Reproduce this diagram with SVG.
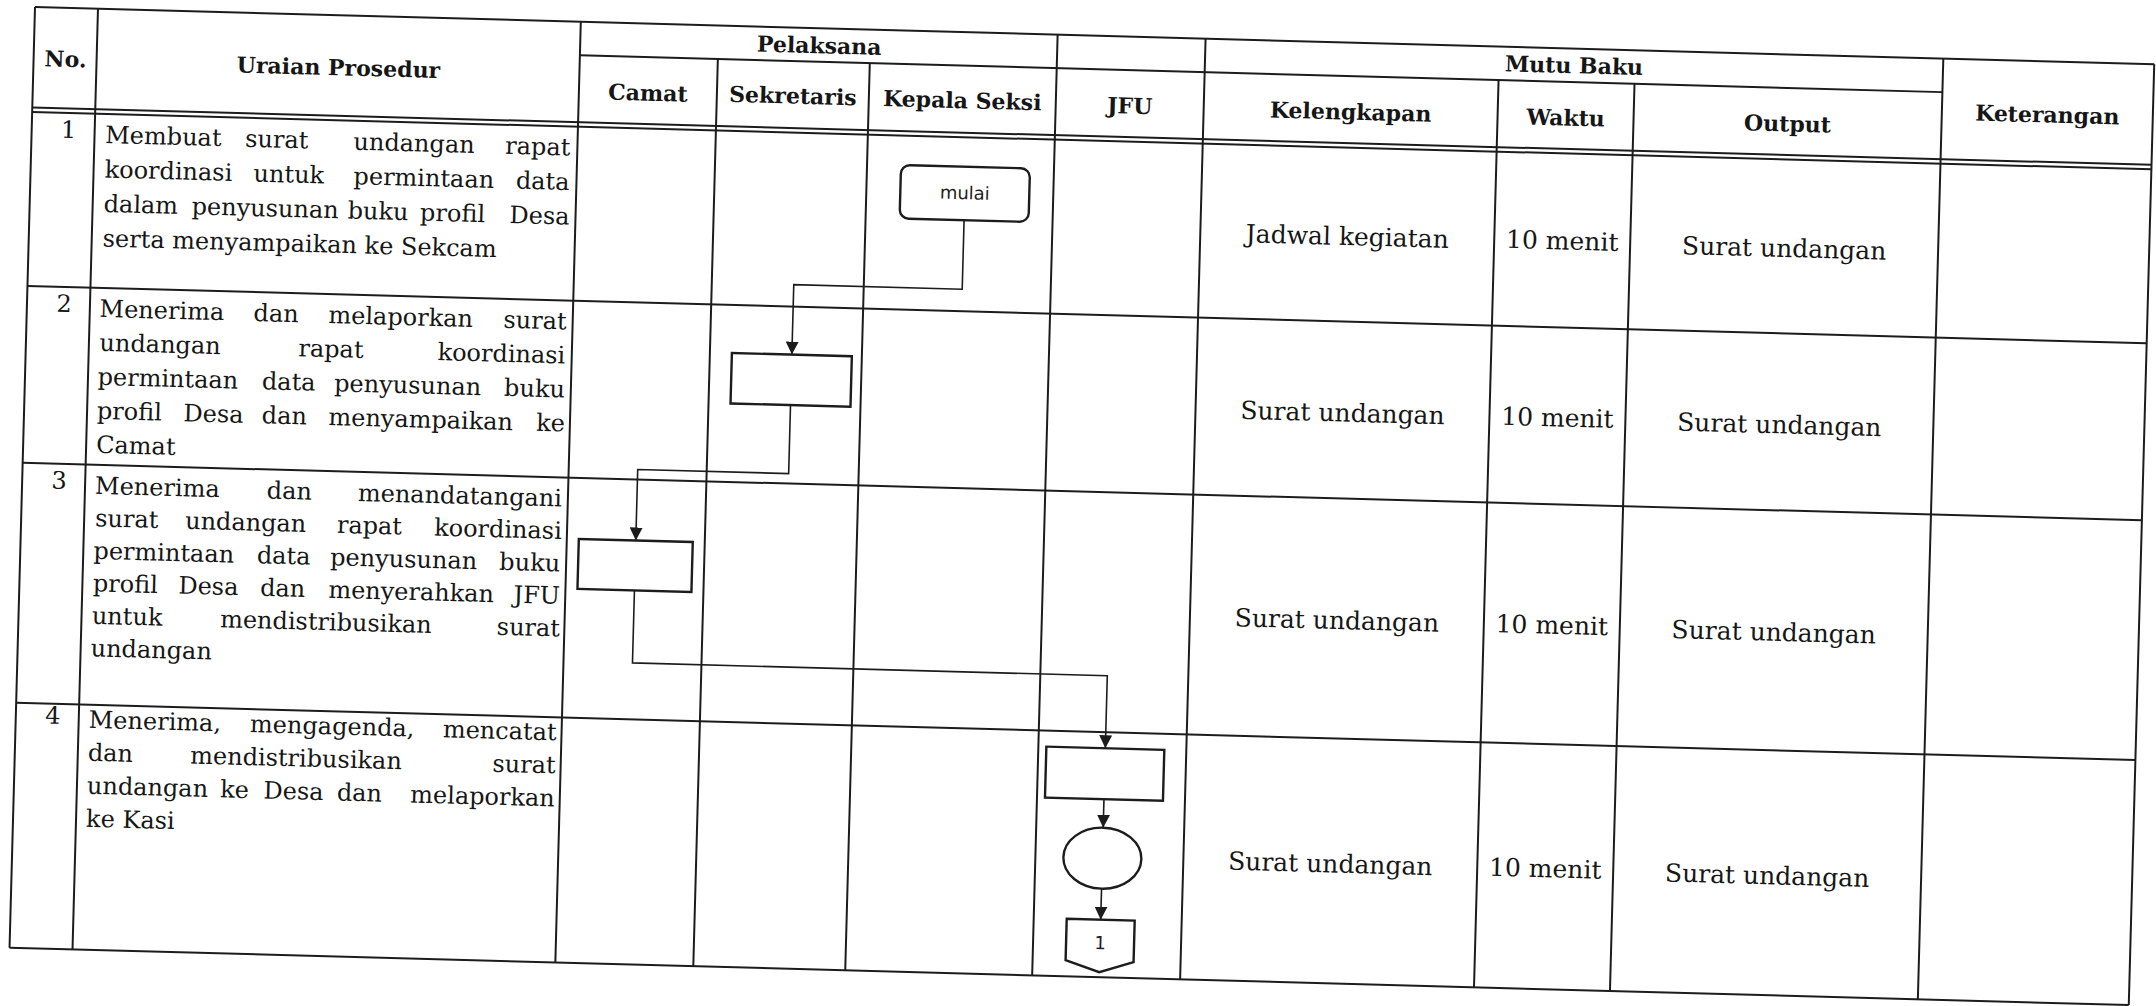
<svg xmlns="http://www.w3.org/2000/svg" width="2156" height="1006" viewBox="0 0 2156 1006">
<style>
.ln{stroke:#1c1c1c;stroke-width:2;fill:none}
.hd{font-family:"DejaVu Serif",serif;font-weight:bold;font-size:22px;fill:#161616;text-anchor:middle}
.bd{font-family:"DejaVu Serif",serif;font-size:24px;fill:#161616}
.e{text-anchor:end}
.cl{font-family:"DejaVu Serif",serif;font-size:25px;fill:#161616;text-anchor:middle}
.num{font-family:"DejaVu Serif",serif;font-size:24px;fill:#161616;text-anchor:middle}
.shape{fill:#fff;stroke:#1c1c1c;stroke-width:2.4}
.con{fill:none;stroke:#1c1c1c;stroke-width:1.6;marker-end:url(#arr)}
.sl{font-family:"DejaVu Sans",sans-serif;font-size:18px;fill:#1c1c1c;text-anchor:middle}
</style>
<defs>
<marker id="arr" markerUnits="userSpaceOnUse" markerWidth="13" markerHeight="13" refX="12" refY="6" orient="auto" viewBox="0 0 12 12"><path d="M0,0 L12,6 L0,12 z" fill="#1c1c1c"/></marker>
</defs>
<rect width="2156" height="1006" fill="#ffffff"/>
<g transform="rotate(1.55 35 7)">
<g transform="translate(35 7)">
<g id="grid" class="ln">
<path d="M0,0H2120M546,33.5H1909M0,100.5H2120M0,105H2120M0,279H2120M0,456H2120M0,696H2120M0,941H2120"/>
<path d="M0,0V941M63,0V941M546,0V941M1023,0V941M1171,0V941M1909,0V941M2120,0V941M684,33.5V941M836,33.5V941M1465,33.5V941M1601,33.5V941"/>
</g>
<g id="header">
<text class="hd" x="32" y="59">No.</text>
<text class="hd" x="305" y="60">Uraian Prosedur</text>
<text class="hd" x="785" y="25">Pelaksana</text>
<text class="hd" x="615" y="77">Camat</text>
<text class="hd" x="760" y="76">Sekretaris</text>
<text class="hd" x="929.5" y="76">Kepala Seksi</text>
<text class="hd" x="1097" y="77">JFU</text>
<text class="hd" x="1540" y="24.5">Mutu Baku</text>
<text class="hd" x="1318" y="77">Kelengkapan</text>
<text class="hd" x="1533" y="77">Waktu</text>
<text class="hd" x="1755" y="77">Output</text>
<text class="hd" x="2014.5" y="61">Keterangan</text>
</g>
<g id="row1">
<text class="num" x="37" y="130">1</text>
<text class="bd" y="134"><tspan x="73.7">Membuat</tspan><tspan x="213.7">surat</tspan><tspan x="322">undangan</tspan></text>
<text class="bd e" x="539" y="134">rapat</text>
<text class="bd" y="168.5"><tspan x="74">koordinasi</tspan><tspan x="223">untuk</tspan><tspan x="323">permintaan</tspan></text>
<text class="bd e" x="539" y="168.5">data</text>
<text class="bd" y="203"><tspan x="74">dalam</tspan><tspan x="162">penyusunan</tspan><tspan x="318">buku</tspan><tspan x="390.5">profil</tspan></text>
<text class="bd e" x="540" y="203">Desa</text>
<text class="bd" x="74" y="237.5">serta menyampaikan ke Sekcam</text>
<text class="cl" x="1318" y="202.5">Jadwal kegiatan</text>
<text class="cl" x="1533" y="201">10 menit</text>
<text class="cl" x="1755" y="202.5">Surat undangan</text>
</g>
<g id="row2">
<text class="num" x="37" y="304">2</text>
<text class="bd" y="308"><tspan x="72.7">Menerima</tspan><tspan x="226.7">dan</tspan><tspan x="301.7">melaporkan</tspan></text>
<text class="bd e" x="540" y="308">surat</text>
<text class="bd" y="342"><tspan x="73.6">undangan</tspan><tspan x="272.6">rapat</tspan></text>
<text class="bd e" x="539.5" y="342">koordinasi</text>
<text class="bd" y="376"><tspan x="72.6">permintaan</tspan><tspan x="237">data</tspan><tspan x="309.3">penyusunan</tspan></text>
<text class="bd e" x="540" y="376">buku</text>
<text class="bd" y="410"><tspan x="72.8">profil</tspan><tspan x="159.4">Desa</tspan><tspan x="237.8">dan</tspan><tspan x="304.4">menyampaikan</tspan></text>
<text class="bd e" x="541" y="410">ke</text>
<text class="bd" x="73" y="444">Camat</text>
<text class="cl" x="1318" y="379">Surat undangan</text>
<text class="cl" x="1533" y="378">10 menit</text>
<text class="cl" x="1755" y="379">Surat undangan</text>
</g>
<g id="row3">
<text class="num" x="37" y="481">3</text>
<text class="bd" y="485"><tspan x="73">Menerima</tspan><tspan x="244.8">dan</tspan></text>
<text class="bd e" x="540" y="485">menandatangani</text>
<text class="bd" y="517.5"><tspan x="74">surat</tspan><tspan x="164">undangan</tspan><tspan x="315.8">rapat</tspan></text>
<text class="bd e" x="540.8" y="517.5">koordinasi</text>
<text class="bd" y="550"><tspan x="73.2">permintaan</tspan><tspan x="236.6">data</tspan><tspan x="310">penyusunan</tspan></text>
<text class="bd e" x="540" y="550">buku</text>
<text class="bd" y="582.5"><tspan x="73.5">profil</tspan><tspan x="159">Desa</tspan><tspan x="240.8">dan</tspan><tspan x="309">menyerahkan</tspan></text>
<text class="bd e" x="540.8" y="582.5">JFU</text>
<text class="bd" y="615"><tspan x="73.3">untuk</tspan><tspan x="201.6">mendistribusikan</tspan></text>
<text class="bd e" x="541.6" y="615">surat</text>
<text class="bd" x="73" y="647.5">undangan</text>
<text class="cl" x="1318" y="586.5">Surat undangan</text>
<text class="cl" x="1533" y="585.5">10 menit</text>
<text class="cl" x="1755" y="586.5">Surat undangan</text>
</g>
<g id="row4">
<text class="num" x="37" y="716">4</text>
<text class="bd" y="719"><tspan x="73">Menerima,</tspan><tspan x="234.4">mengagenda,</tspan></text>
<text class="bd e" x="541" y="719">mencatat</text>
<text class="bd" y="752"><tspan x="73">dan</tspan><tspan x="175.4">mendistribusikan</tspan></text>
<text class="bd e" x="541" y="752">surat</text>
<text class="bd" y="785"><tspan x="73">undangan</tspan><tspan x="206.3">ke</tspan><tspan x="249.6">Desa</tspan><tspan x="323">dan</tspan></text>
<text class="bd e" x="541" y="785">melaporkan</text>
<text class="bd" x="73" y="818">ke Kasi</text>
<text class="cl" x="1318" y="830">Surat undangan</text>
<text class="cl" x="1533" y="829">10 menit</text>
<text class="cl" x="1755" y="830">Surat undangan</text>
</g>
<g id="connectors">
<path class="con" d="M934.5,188V257H766V327"/>
<path class="con" d="M766,377.5V446H615V517"/>
<path class="con" d="M615,567V639.5H1090V712"/>
<path class="con" d="M1090,763V791.5"/>
<path class="con" d="M1090,852.5V883.5"/>
</g>
<g id="node-mulai">
<rect class="shape" x="870" y="134.5" width="129" height="53.5" rx="9"/>
<text class="sl" x="934.5" y="167">mulai</text>
</g>
<g id="node-sekretaris">
<rect class="shape" x="706" y="327" width="120" height="50.5"/>
</g>
<g id="node-camat">
<rect class="shape" x="558" y="517" width="114" height="50"/>
</g>
<g id="node-jfu">
<rect class="shape" x="1031" y="712" width="118" height="51"/>
</g>
<g id="node-circle">
<ellipse class="shape" cx="1090" cy="822" rx="39" ry="30.5"/>
</g>
<g id="node-offpage">
<polygon class="shape" points="1056,883.5 1124,883.5 1124,925 1090,936 1056,925"/>
<text class="sl" x="1090" y="913">1</text>
</g>
</g>
</g>
</svg>
